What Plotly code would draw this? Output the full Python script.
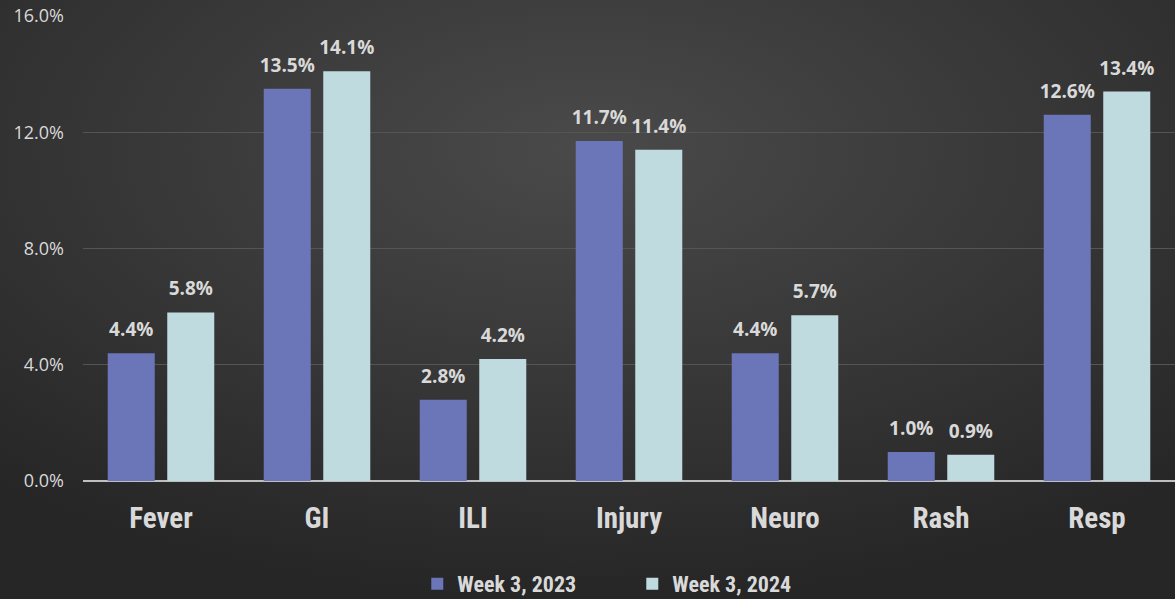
import plotly.graph_objects as go
import urllib.parse

categories = ["Fever", "GI", "ILI", "Injury", "Neuro", "Rash", "Resp"]
week3_2023 = [4.4, 13.5, 2.8, 11.7, 4.4, 1.0, 12.6]
week3_2024 = [5.8, 14.1, 4.2, 11.4, 5.7, 0.9, 13.4]
series_names = ["Week 3, 2023", "Week 3, 2024"]
y_ticks = [0, 4, 8, 12, 16]

W, H = 1175, 599
ml, mr, mt, mb = 83, 0, 16, 118
pw, ph = W - ml - mr, H - mt - mb

label_font = dict(family="Open Sans, Noto Sans, sans-serif", size=19, color="#d9d9d9", weight="bold")
cond = "Liberation Sans Narrow, Roboto Condensed, sans-serif"

fig = go.Figure()
for i, (name, vals, col) in enumerate([(series_names[0], week3_2023, "#6b76b9"),
                                       (series_names[1], week3_2024, "#bfdbe0")]):
    fig.add_trace(go.Bar(
        x=categories, y=vals, name=name,
        marker=dict(color=col, line=dict(width=0)),
        offsetgroup=str(i), alignmentgroup="g",
        hoverinfo="skip",
    ))
for i, vals in enumerate([week3_2023, week3_2024]):
    fig.add_trace(go.Scatter(
        x=categories, y=vals, mode="markers+text",
        marker=dict(size=18, color="rgba(0,0,0,0)"),
        text=[f"{v:.1f}%" for v in vals],
        textposition="top center", textfont=label_font,
        offsetgroup=str(i), alignmentgroup="g",
        showlegend=False, hoverinfo="skip", cliponaxis=False,
    ))

svg = (f'<svg xmlns="http://www.w3.org/2000/svg" width="{W}" height="{H}">'
       '<defs><radialGradient id="g" cx="50%" cy="25%" r="75%">'
       '<stop offset="0%" stop-color="#4a4a4a"/>'
       '<stop offset="100%" stop-color="#262626"/>'
       '</radialGradient></defs>'
       f'<rect width="{W}" height="{H}" fill="url(#g)"/></svg>')
src = "data:image/svg+xml;charset=utf-8," + urllib.parse.quote(svg)

fig.update_layout(
    width=W, height=H,
    margin=dict(l=ml, r=mr, t=mt, b=mb, autoexpand=False),
    paper_bgcolor="#333333",
    plot_bgcolor="rgba(0,0,0,0)",
    barmode="group", bargap=0.237, bargroupgap=0.21,
    scattermode="group", scattergap=0.237,
    showlegend=True,
    legend=dict(orientation="h", x=0.503, xanchor="center",
                yref="container", y=1 - 584 / H, yanchor="middle",
                bgcolor="rgba(0,0,0,0)",
                font=dict(family=cond, size=22, color="#d9d9d9", weight="bold"),
                itemwidth=30, tracegroupgap=0, entrywidthmode="pixels", entrywidth=170),
    images=[dict(source=src, xref="paper", yref="paper",
                 x=-ml / pw, y=1 + mt / ph, sizex=W / pw, sizey=H / ph,
                 xanchor="left", yanchor="top", sizing="stretch", layer="below")],
    xaxis=dict(
        tickfont=dict(family=cond, size=29, color="#d9d9d9", weight="bold"),
        showline=False, showgrid=False, ticks="", ticklabelstandoff=17,
    ),
    yaxis=dict(
        range=[0, 16], tickvals=y_ticks,
        ticktext=[f"{v:.1f}%" for v in y_ticks],
        tickfont=dict(family="Open Sans, Noto Sans, sans-serif", size=18, color="#d9d9d9"),
        showgrid=True, gridcolor="#555555", gridwidth=1,
        zeroline=True, zerolinecolor="#bfbfbf", zerolinewidth=2,
        showline=False, ticks="", ticklabelstandoff=18,
    ),
)
fig.write_html("out.html", config={"displayModeBar": False},
               post_script="document.body.style.margin='0';")
